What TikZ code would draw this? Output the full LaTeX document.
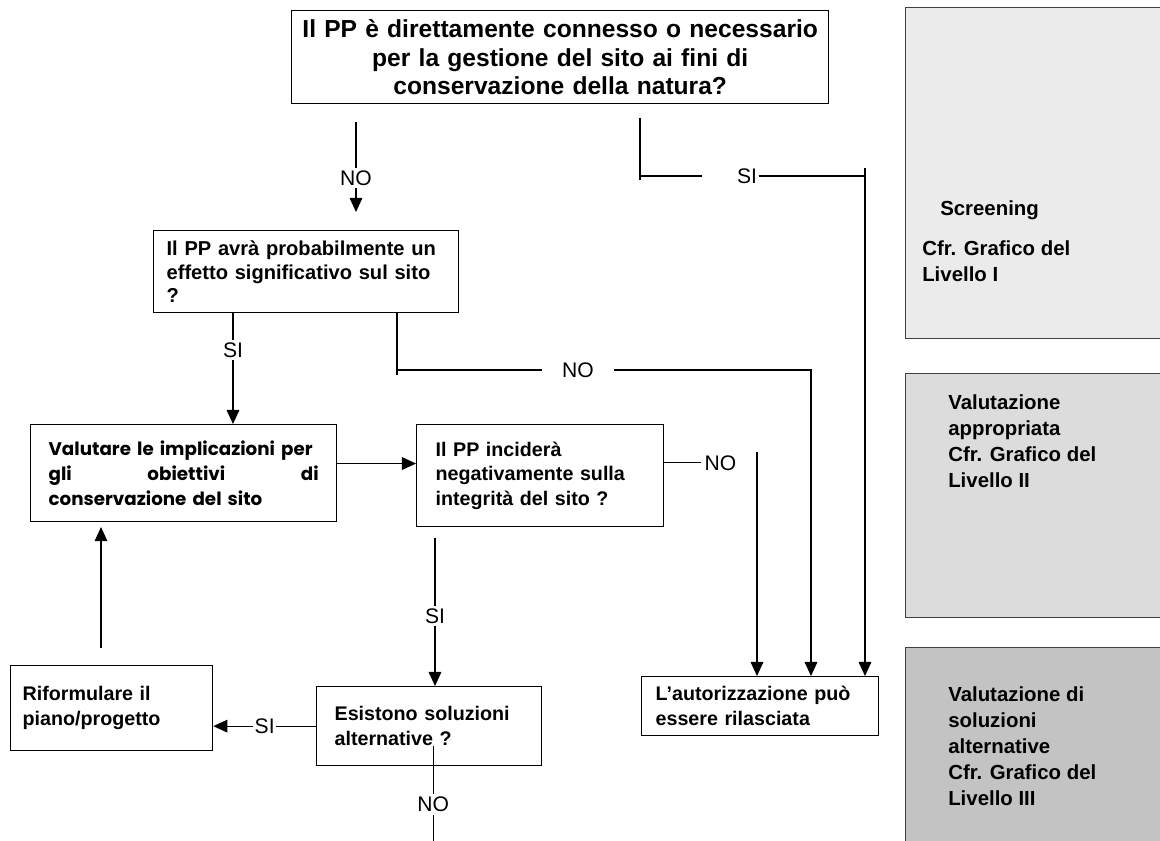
\documentclass[tikz,border=0pt]{standalone}
\usepackage{fontspec}
\setmainfont{Liberation Sans}
\newfontfamily\gothicfont{Poppins}
\usetikzlibrary{arrows.meta,calc,positioning}
\definecolor{levelone}{HTML}{EBEBEB}
\definecolor{leveltwo}{HTML}{DCDCDC}
\definecolor{levelthree}{HTML}{C3C3C3}

\begin{document}
\begin{tikzpicture}[x=0.025cm, y=-0.025cm, font=\fontsize{14}{17.5}\selectfont\bfseries]
  \tikzset{box/.style={draw, line width=0.9pt, inner ysep=0pt, anchor=north west, align=left},
    gothic/.style={font=\gothicfont\fontsize{13}{17.5}\selectfont\bfseries},
    panel/.style={draw=black!75, line width=0.9pt, anchor=north west, minimum width=7cm, inner sep=0pt},
    paneltext/.style={anchor=north west, inner sep=0pt, align=left, font=\fontsize{14.5}{18.5}\selectfont\bfseries},
    flowline/.style={line width=0.8pt},
    flowarrow/.style={flowline, -{Triangle[length=10pt,width=9pt]}},
    answer/.style={fill=white, inner sep=2pt, font=\fontsize{15}{18}\selectfont\mdseries}}
  \clip (0,0) rectangle (1160,841);
  \fill[white] (0,0) rectangle (1160,841);

  % decision boxes
  \node[box, align=center, text width=13.225cm, inner xsep=0.1cm, minimum height=2.325cm,
        font=\fontsize{17.5}{20}\selectfont\bfseries] (conn) at (291,10)
        {Il PP è direttamente connesso o necessario\\per la gestione del sito ai fini di\\conservazione della natura?};
  \node[box, text width=6.975cm, inner xsep=0.325cm, minimum height=2.05cm,
        font=\fontsize{14.3}{16.5}\selectfont\bfseries] (effetto) at (153,230)
        {Il PP avrà probabilmente un\\effetto significativo sul sito\\?};
  \node[box, gothic, text width=6.75cm, inner xsep=0.45cm, minimum height=2.425cm] (valuta) at (30,424)
        {Valutare le implicazioni per\\gli\hfill obiettivi\hfill di\\conservazione del sito};
  \node[box, text width=5.225cm, inner xsep=0.475cm, minimum height=2.55cm] (incide) at (416,424)
        {Il PP inciderà\\negativamente sulla\\integrità del sito ?};
  \node[box, text width=4.45cm, inner xsep=0.3cm, minimum height=2.125cm] (riform) at (10,665)
        {Riformulare il\\piano/progetto};
  \node[box, text width=4.725cm, inner xsep=0.45cm, minimum height=1.975cm] (alter) at (316,686)
        {Esistono soluzioni\\alternative ?};
  \node[box, text width=5.225cm, inner xsep=0.35cm, minimum height=1.475cm] (autor) at (641,676)
        {L’autorizzazione può\\essere rilasciata};

  % level panels
  \node[panel, fill=levelone, minimum height=8.275cm] (lev1) at (905,7) {};
  \node[panel, fill=leveltwo, minimum height=6.1cm] (lev2) at (905,373) {};
  \node[panel, fill=levelthree, minimum height=5.5cm] (lev3) at (905,647) {};
  \node[paneltext] at ($(lev1.north west)+(17,193)$)
        {\hspace*{0.45cm}Screening\\[0.35cm]Cfr. Grafico del\\Livello I};
  \node[paneltext] at ($(lev2.north west)+(43,21)$)
        {Valutazione\\appropriata\\Cfr. Grafico del\\Livello II};
  \node[paneltext] at ($(lev3.north west)+(43,39)$)
        {Valutazione di\\soluzioni\\alternative\\Cfr. Grafico del\\Livello III};

  % connectors
  \coordinate (noTop) at (356,122);
  \draw[flowarrow, shorten >=0.45cm] (noTop) -- node[answer, pos=0.52] {NO} (noTop |- effetto.north);

  \coordinate (siTop) at (640,118);
  \coordinate (siBend) at (640,176);
  \coordinate (siGap) at (702,176);
  \coordinate (siRight) at (865,176);
  \node[answer, fill=none, inner xsep=1pt] (siLab) at (747,176) {SI};
  \draw[flowline] (siTop) -- ++(0,62);
  \draw[flowline] (siRight) -- ++(0,-8);
  \draw[flowline] (siBend) -- (siGap);
  \draw[flowarrow] (siLab.east) -- (siRight) -- (siRight |- autor.north);

  \coordinate (siMid) at (233,0);
  \draw[flowarrow] (effetto.south -| siMid) -- node[answer, pos=0.33] {SI} (valuta.north -| siMid);

  \coordinate (noMid) at (397,370);
  \coordinate (noRight) at (811,370);
  \draw[flowline] (effetto.south -| noMid) -- ++(0,62);
  \draw[flowarrow] (noMid) -- node[answer, pos=0.437, inner xsep=0.5cm] {NO} (noRight) -- (noRight |- autor.north);

  \draw[flowarrow] ([yshift=0.24cm]valuta.east) -- ([yshift=0.24cm]valuta.east -| incide.west);

  \draw[flowline] ([yshift=0.32cm]incide.east) -- ++(37,0) node[answer, right, fill=none] {NO};
  \coordinate (noLow) at (757,452);
  \draw[flowarrow] (noLow) -- (noLow |- autor.north);

  \coordinate (siLow) at (435,0);
  \draw[flowarrow, shorten <=0.28cm] (incide.south -| siLow) -- node[answer, pos=0.56] {SI} (alter.north -| siLow);

  \draw[flowarrow] (alter.west) -- node[answer, inner sep=1pt] {SI} (alter.west -| riform.east);

  \draw[flowline] ($(alter.south)+(4,-20)$) -- node[answer, pos=0.58] {NO} ($(alter.south)+(4,80)$);

  \coordinate (backUp) at (101,0);
  \draw[flowarrow, shorten <=0.425cm, shorten >=0.12cm] (riform.north -| backUp) -- (valuta.south -| backUp);
\end{tikzpicture}
\end{document}
